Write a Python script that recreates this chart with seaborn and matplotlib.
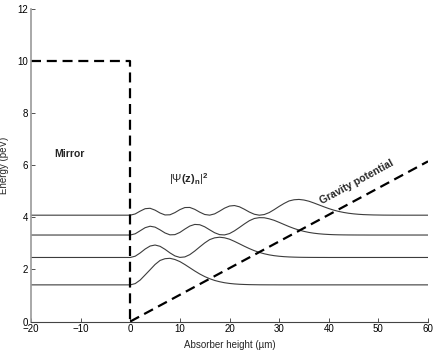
import pandas as pd
import matplotlib
matplotlib.use("Agg")
import matplotlib.pyplot as plt
import seaborn as sns

# Neutron quantum states above a mirror in the gravity field (energies in peV)
level_energy = [1.407, 2.459, 3.321, 4.083]

# |Psi(z)_n|^2 drawn on top of each level, every 1 um from z = 0
psi_sq_1 = [0, 0.049, 0.185, 0.382, 0.581, 0.783, 0.937, 1.005, 1.020, 0.974,
            0.894, 0.781, 0.657, 0.533, 0.418, 0.319, 0.237, 0.170, 0.121, 0.082,
            0.055, 0.036, 0.023, 0.015, 0.009, 0.006, 0.003, 0.002, 0.001, 0.001, 0]
psi_sq_2 = [0, 0.049, 0.174, 0.324, 0.439, 0.478, 0.429, 0.314, 0.176, 0.060,
            0.003, 0.021, 0.109, 0.248, 0.406, 0.558, 0.686, 0.754, 0.778, 0.755,
            0.702, 0.618, 0.525, 0.430, 0.341, 0.261, 0.195, 0.142, 0.100, 0.069,
            0.047, 0.031, 0.020, 0.013, 0.008, 0.005, 0.003, 0.002, 0.001, 0.001, 0]
psi_sq_3 = [0, 0.048, 0.164, 0.282, 0.338, 0.303, 0.199, 0.080, 0.007, 0.015,
            0.100, 0.228, 0.345, 0.407, 0.395, 0.316, 0.200, 0.088, 0.015, 0.004,
            0.056, 0.161, 0.291, 0.426, 0.550, 0.635, 0.667, 0.663, 0.622, 0.564,
            0.486, 0.404, 0.324, 0.252, 0.190, 0.140, 0.100, 0.070, 0.048, 0.032,
            0.021, 0.013, 0.008, 0.005, 0.003, 0.002, 0.001, 0.001, 0]
psi_sq_4 = [0, 0.048, 0.156, 0.249, 0.265, 0.193, 0.084, 0.009, 0.015, 0.099,
            0.213, 0.293, 0.297, 0.224, 0.116, 0.027, 0.001, 0.050, 0.155, 0.270,
            0.351, 0.370, 0.322, 0.227, 0.120, 0.036, 0.000, 0.024, 0.100, 0.213,
            0.337, 0.451, 0.547, 0.592, 0.605, 0.582, 0.536, 0.469, 0.396, 0.323,
            0.254, 0.194, 0.144, 0.105, 0.074, 0.051, 0.034, 0.022, 0.015, 0.009,
            0.006, 0.003, 0.002, 0.001, 0.001, 0]

# potentials: mirror wall (z < 0) and gravity m*g*z
mirror_z = [-20, 0, 0]
mirror_v = [10, 10, 0]
gravity_z = [0, 60]
gravity_v = [0, 6.15]

x_ticks = [-20, -10, 0, 10, 20, 30, 40, 50, 60]
y_ticks = [0, 2, 4, 6, 8, 10, 12]


def build_levels() -> pd.DataFrame:
    """Long format: one row per sample point of each state curve."""
    rows = []
    for n, (energy, psi) in enumerate(zip(level_energy, [psi_sq_1, psi_sq_2, psi_sq_3, psi_sq_4]), 1):
        zs = [x_ticks[0]] + list(range(len(psi))) + [x_ticks[-1]]
        es = [energy] + [energy + p for p in psi] + [energy]
        rows += [{"level": n, "z": z, "energy": e} for z, e in zip(zs, es)]
    return pd.DataFrame(rows)


sns.set_style("ticks")
plt.rcParams["font.family"] = ["Liberation Sans", "DejaVu Sans"]
plt.rcParams["mathtext.fontset"] = "custom"
plt.rcParams["mathtext.rm"] = "Liberation Sans"
plt.rcParams["mathtext.bf"] = "Liberation Sans:bold"
plt.rcParams["xtick.direction"] = "in"
plt.rcParams["ytick.direction"] = "in"

fig = plt.figure(figsize=(4.36, 3.53), dpi=100)
ax = fig.add_axes([0.0711, 0.0892, 0.9106, 0.8853])

levels = build_levels()
sns.lineplot(data=levels, x="z", y="energy", units="level", estimator=None, sort=False,
             color="#3c3c3c", linewidth=0.8, ax=ax)
sns.lineplot(x=mirror_z, y=mirror_v, sort=False, estimator=None, color="black",
             linewidth=1.6, ax=ax).lines[-1].set_dashes((4.5, 2.6))
sns.lineplot(x=gravity_z, y=gravity_v, sort=False, estimator=None, color="black",
             linewidth=1.6, ax=ax).lines[-1].set_dashes((4.5, 2.6))

ax.text(-15.3, 6.45, "Mirror", fontsize=7.5, fontweight="bold", va="center")
ax.text(7.9, 5.45, r"$|\Psi\mathbf{(z)}_{\mathbf{n}}|^{\mathbf{2}}$", fontsize=8, va="center")
ax.text(45.6, 5.35, "Gravity potential", fontsize=7.5, fontweight="bold",
        rotation=28.5, ha="center", va="center")

ax.set_xlim(-20, 60)
ax.set_ylim(0, 12)
ax.set_xticks(x_ticks)
ax.set_yticks(y_ticks)
ax.tick_params(labelsize=7, length=3, width=0.6, colors="#333333", labelcolor="black", pad=2)
ax.set_xlabel("Absorber height (\u00b5m)", fontsize=7)
ax.set_ylabel("Energy (peV)", fontsize=7)
ax.xaxis.set_label_coords(0.5, -0.06)
ax.yaxis.set_label_coords(-0.055, 0.5)
sns.despine(ax=ax)
ax.spines["left"].set_color("#9a9a9a")
ax.spines["left"].set_linewidth(1.2)
ax.spines["bottom"].set_color("#444444")
ax.spines["bottom"].set_linewidth(0.8)

fig.savefig("out.png", dpi=100)
